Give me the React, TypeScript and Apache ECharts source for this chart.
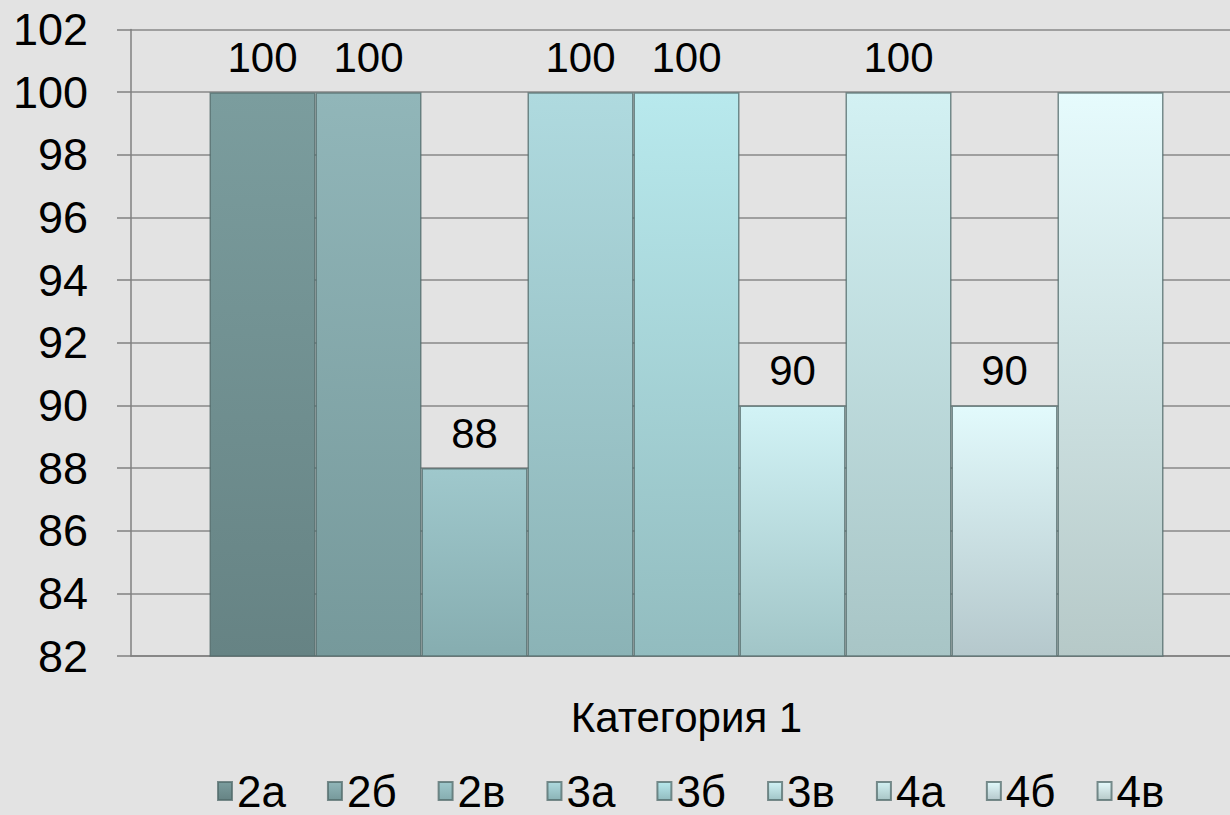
import React, { useEffect, useRef } from "react";
import * as echarts from "echarts";

const categories = ["Категория 1"];
const seriesNames = ["2а", "2б", "2в", "3а", "3б", "3в", "4а", "4б", "4в"];
const seriesValues = [100, 100, 88, 100, 100, 90, 100, 90, 100];
const showLabel = [true, true, true, true, true, true, true, true, false];
const topColors = ["#7b9d9e", "#91b6b9", "#9fc8cc", "#afdadf", "#b8e9ed", "#d2f3f6", "#d3f1f3", "#e2fafc", "#e6fbfd"];
const bottomColors = ["#668384", "#76999b", "#86adb0", "#8bb3b6", "#92bcbf", "#a1c5c7", "#a8c5c6", "#b5c8cc", "#b6c9c8"];
const yTicks = { min: 82, max: 102, interval: 2 };

export default function App() {
  const ref = useRef<HTMLDivElement>(null);
  useEffect(() => {
    if (!ref.current) return;
    const chart = echarts.init(ref.current, undefined, { renderer: "svg" });
    const font = "'Liberation Sans', Arial, sans-serif";
    chart.setOption({
      animation: false,
      backgroundColor: "#e3e3e3",
      textStyle: { fontFamily: font },
      grid: { left: 131, right: 0, top: 29.5, bottom: 815 - 656 },
      legend: {
        left: 212,
        top: 764,
        itemWidth: 14,
        itemHeight: 18,
        itemGap: 41,
        icon: "rect",
        textStyle: { fontSize: 44, color: "#000", fontFamily: font },
        data: seriesNames,
      },
      xAxis: {
        type: "category",
        data: categories,
        axisLine: { show: true, lineStyle: { color: "#808080", width: 1.5 } },
        axisTick: { show: false },
        axisLabel: { fontSize: 42, color: "#000", margin: 40, fontFamily: font },
      },
      yAxis: {
        type: "value",
        min: yTicks.min,
        max: yTicks.max,
        interval: yTicks.interval,
        axisLine: { show: true, lineStyle: { color: "#808080", width: 1.5 } },
        axisTick: { show: true, length: 14, lineStyle: { color: "#808080", width: 1.5 } },
        axisLabel: { fontSize: 45, color: "#000", margin: 43, fontFamily: font },
        splitLine: { show: true, lineStyle: { color: "#888888", width: 1.5 } },
      },
      series: seriesNames.map((name, i) => ({
        name,
        type: "bar",
        barWidth: 106,
        barGap: "0%",
        data: [seriesValues[i]],
        itemStyle: {
          color: new echarts.graphic.LinearGradient(0, 0, 0, 1, [
            { offset: 0, color: topColors[i] },
            { offset: 1, color: bottomColors[i] },
          ]),
          borderColor: "rgba(80,105,106,0.75)",
          borderWidth: 1.5,
        },
        label: {
          show: showLabel[i],
          position: "top",
          distance: 14,
          fontSize: 42,
          color: "#000",
          fontFamily: font,
        },
      })),
    });
    return () => chart.dispose();
  }, []);
  return (
    <div style={{ position: "absolute", left: 0, top: 0, width: 1230, height: 815, overflow: "hidden" }}>
      <div
        ref={ref}
        style={{ position: "absolute", left: 0, top: 0, width: 1242, height: 815 }}
      />
    </div>
  );
}
